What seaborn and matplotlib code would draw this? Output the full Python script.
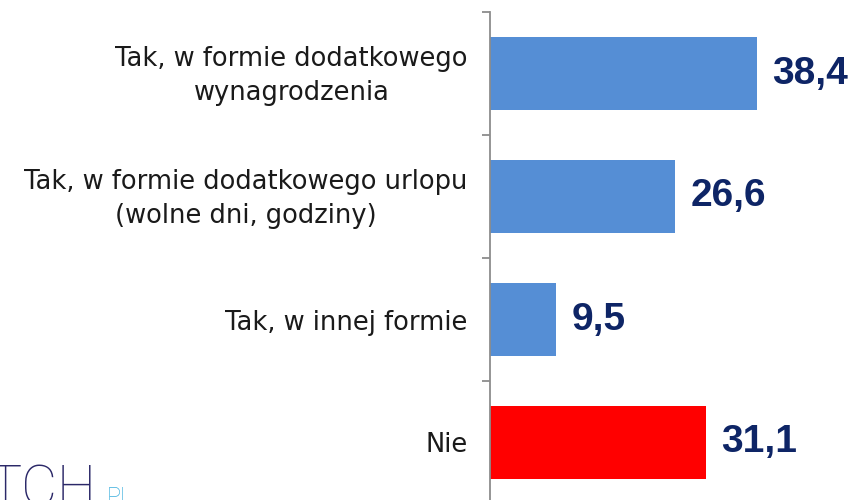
import matplotlib
matplotlib.use("Agg")
import matplotlib.pyplot as plt
import matplotlib.transforms as mtransforms
import seaborn as sns
import pandas as pd
from matplotlib.ticker import FixedLocator

categories = [
    "Tak, w formie dodatkowego\nwynagrodzenia",
    "Tak, w formie dodatkowego urlopu\n(wolne dni, godziny)",
    "Tak, w innej formie",
    "Nie",
]
values = [38.4, 26.6, 9.5, 31.1]
value_labels = ["38,4", "26,6", "9,5", "31,1"]
bar_colors = ["#558ED5", "#558ED5", "#558ED5", "#FF0000"]

sns.set_style("white")
plt.rcParams["font.family"] = ["DejaVu Sans"]

df = pd.DataFrame({"cat": categories, "val": values})

fig = plt.figure(figsize=(8.5, 5.0), dpi=100)
ax = fig.add_axes([490 / 850, -4 / 500, 360 / 850, 492 / 500])

sns.barplot(data=df, x="val", y="cat", hue="cat", palette=bar_colors,
            legend=False, width=0.6, ax=ax, saturation=1, edgecolor="none")

ax.set_xlim(0, 51.8)
ax.set_ylim(3.5, -0.5)
ax.set_xlabel("")
ax.set_ylabel("")
ax.set_xticks([])

for s in ["top", "right", "bottom"]:
    ax.spines[s].set_visible(False)
ax.spines["left"].set_color("#8c8c8c")
ax.spines["left"].set_linewidth(1.3)

ax.set_yticks(range(len(categories)))
ax.yaxis.set_minor_locator(FixedLocator([-0.5, 0.5, 1.5, 2.5, 3.5]))
ax.tick_params(axis="y", which="major", left=False, length=0, pad=16)
ax.tick_params(axis="y", which="minor", left=True, length=6, width=1.3,
               color="#8c8c8c", direction="out")
ax.set_yticklabels(categories, fontsize=18.5, color="#1a1a1a", linespacing=1.38)
shift = mtransforms.ScaledTranslation(0, 4.5 / 100, fig.dpi_scale_trans)
for lbl in ax.get_yticklabels():
    lbl.set_multialignment("center")
    lbl.set_horizontalalignment("right")
    if "\n" in lbl.get_text():
        lbl.set_transform(lbl.get_transform() + shift)

for i, (v, t) in enumerate(zip(values, value_labels)):
    ax.annotate(t, xy=(v, i), xytext=(11, 0), textcoords="offset points",
                ha="left", va="center", fontsize=28, fontweight="bold",
                color="#0E2566", family="Liberation Sans")

# logo fragment bottom-left
fig.text(-12 / 850, -5 / 500, "TCH", fontsize=40, color="#2B2868",
         family="Roboto", fontweight="light", ha="left", va="baseline")
fig.text(107 / 850, -4 / 500, "PL", fontsize=17, color="#3AAEDD",
         family="Roboto", fontweight="light", ha="left", va="baseline")

fig.savefig("out.png", dpi=100)
